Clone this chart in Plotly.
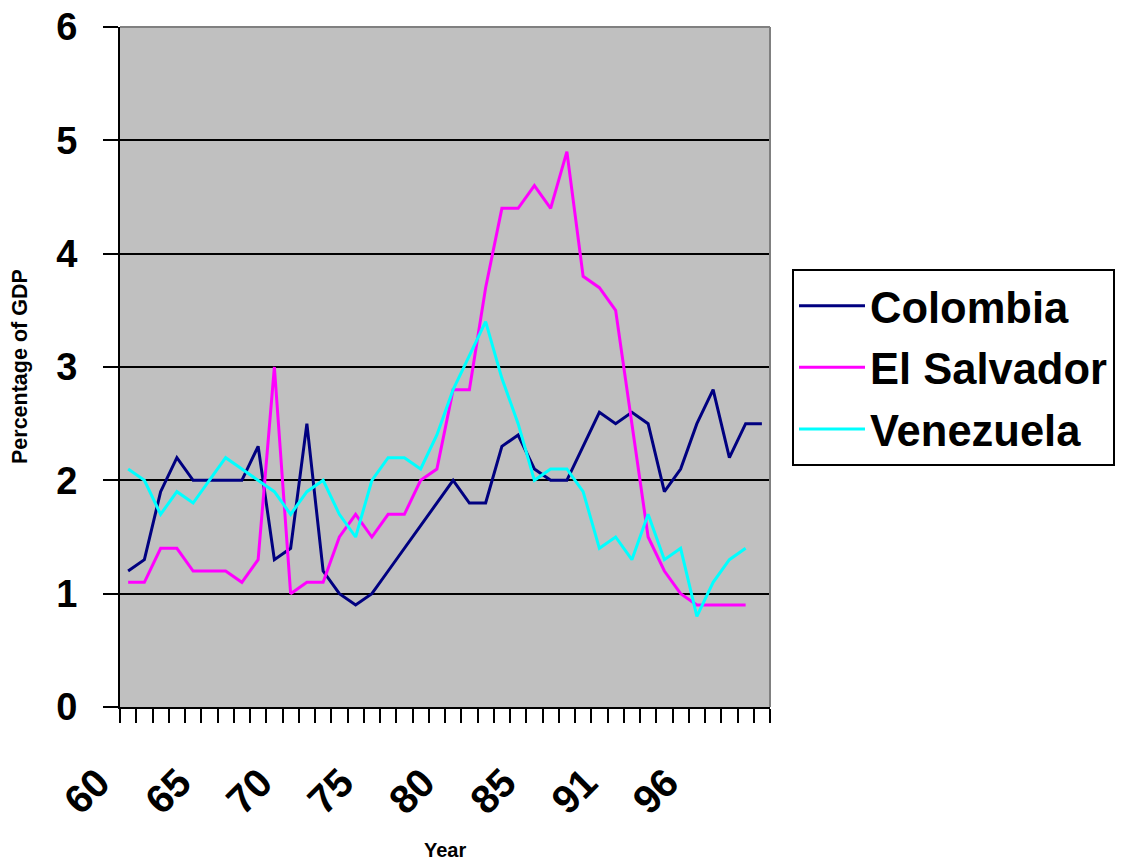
import plotly.graph_objects as go

# Year categories (1990 is absent from the series)
year_labels = [str(y) for y in range(60, 90)] + [str(y) for y in range(91, 100)] + ["00"]

# Percentage of GDP by country
colombia = [1.2, 1.3, 1.9, 2.2, 2.0, 2.0, 2.0, 2.0, 2.3, 1.3,
            1.4, 2.5, 1.2, 1.0, 0.9, 1.0, 1.2, 1.4, 1.6, 1.8,
            2.0, 1.8, 1.8, 2.3, 2.4, 2.1, 2.0, 2.0, 2.3, 2.6,
            2.5, 2.6, 2.5, 1.9, 2.1, 2.5, 2.8, 2.2, 2.5, 2.5]
el_salvador = [1.1, 1.1, 1.4, 1.4, 1.2, 1.2, 1.2, 1.1, 1.3, 3.0,
               1.0, 1.1, 1.1, 1.5, 1.7, 1.5, 1.7, 1.7, 2.0, 2.1,
               2.8, 2.8, 3.7, 4.4, 4.4, 4.6, 4.4, 4.9, 3.8, 3.7,
               3.5, 2.5, 1.5, 1.2, 1.0, 0.9, 0.9, 0.9, 0.9]
venezuela = [2.1, 2.0, 1.7, 1.9, 1.8, 2.0, 2.2, 2.1, 2.0, 1.9,
             1.7, 1.9, 2.0, 1.7, 1.5, 2.0, 2.2, 2.2, 2.1, 2.4,
             2.8, 3.1, 3.4, 2.9, 2.5, 2.0, 2.1, 2.1, 1.9, 1.4,
             1.5, 1.3, 1.7, 1.3, 1.4, 0.8, 1.1, 1.3, 1.4]

series = [
    ("Colombia", colombia, "#000080"),
    ("El Salvador", el_salvador, "#FF00FF"),
    ("Venezuela", venezuela, "#00FFFF"),
]

# Only every fifth year is labelled on the axis
tick_text = [lbl if i % 5 == 0 else "" for i, lbl in enumerate(year_labels)]

BOLD = "Liberation Sans, Arial, sans-serif"

fig = go.Figure()
for name, values, color in series:
    fig.add_trace(go.Scatter(
        x=year_labels[:len(values)], y=values, name=name, mode="lines",
        line=dict(color=color, width=3), legendgroup=name,
    ))

fig.update_layout(
    width=1127, height=865,
    margin=dict(l=120, r=357, t=27, b=158, autoexpand=False),
    paper_bgcolor="white",
    plot_bgcolor="#C0C0C0",
    font=dict(family=BOLD, color="black"),
    showlegend=True,
    legend=dict(
        x=(792 - 120) / 650, y=(707 - 269) / 680,
        xanchor="left", yanchor="top",
        bgcolor="white", bordercolor="black", borderwidth=2,
        font=dict(size=43.5, family=BOLD, weight="bold"),
        itemwidth=66, traceorder="grouped", tracegroupgap=2,
    ),
    xaxis=dict(
        type="category", categoryorder="array", categoryarray=year_labels,
        range=[-0.5, len(year_labels) - 0.5], automargin=False,
        tickmode="array", tickvals=year_labels, ticktext=tick_text,
        tickson="boundaries", ticks="outside", ticklen=14, tickwidth=2,
        tickcolor="black", tickangle=-45,
        tickfont=dict(size=40, family=BOLD, weight="bold"),
        showline=True, linecolor="black", linewidth=2,
        showgrid=False, zeroline=False,
        ticklabelstandoff=34, ticklabelshift=-30,
    ),
    yaxis=dict(
        range=[0, 6], tickmode="linear", tick0=0, dtick=1, automargin=False,
        ticks="outside", ticklen=15, tickwidth=2, tickcolor="black",
        tickfont=dict(size=38, family=BOLD, weight="bold"),
        showline=True, linecolor="black", linewidth=2,
        showgrid=True, gridcolor="black", gridwidth=2,
        zeroline=False, ticklabelstandoff=18,
    ),
    annotations=[
        dict(text="Year", xref="paper", yref="paper", x=0.5, y=(707 - 850) / 680,
             xanchor="center", yanchor="middle", showarrow=False,
             font=dict(size=20, family=BOLD, weight="bold")),
        dict(text="Percentage of GDP", xref="paper", yref="paper",
             x=(20 - 120) / 650, y=0.5, textangle=-90,
             xanchor="center", yanchor="middle", showarrow=False,
             font=dict(size=21.5, family=BOLD, weight="bold")),
    ],
    shapes=[
        # gray frame on the top and right of the plotting area
        dict(type="line", xref="paper", yref="paper", x0=0, x1=1, y0=1, y1=1,
             line=dict(color="#808080", width=2), layer="above"),
        dict(type="line", xref="paper", yref="paper", x0=1, x1=1, y0=0, y1=1,
             line=dict(color="#808080", width=2), layer="above"),
    ],
)

fig.write_html("out.html")
